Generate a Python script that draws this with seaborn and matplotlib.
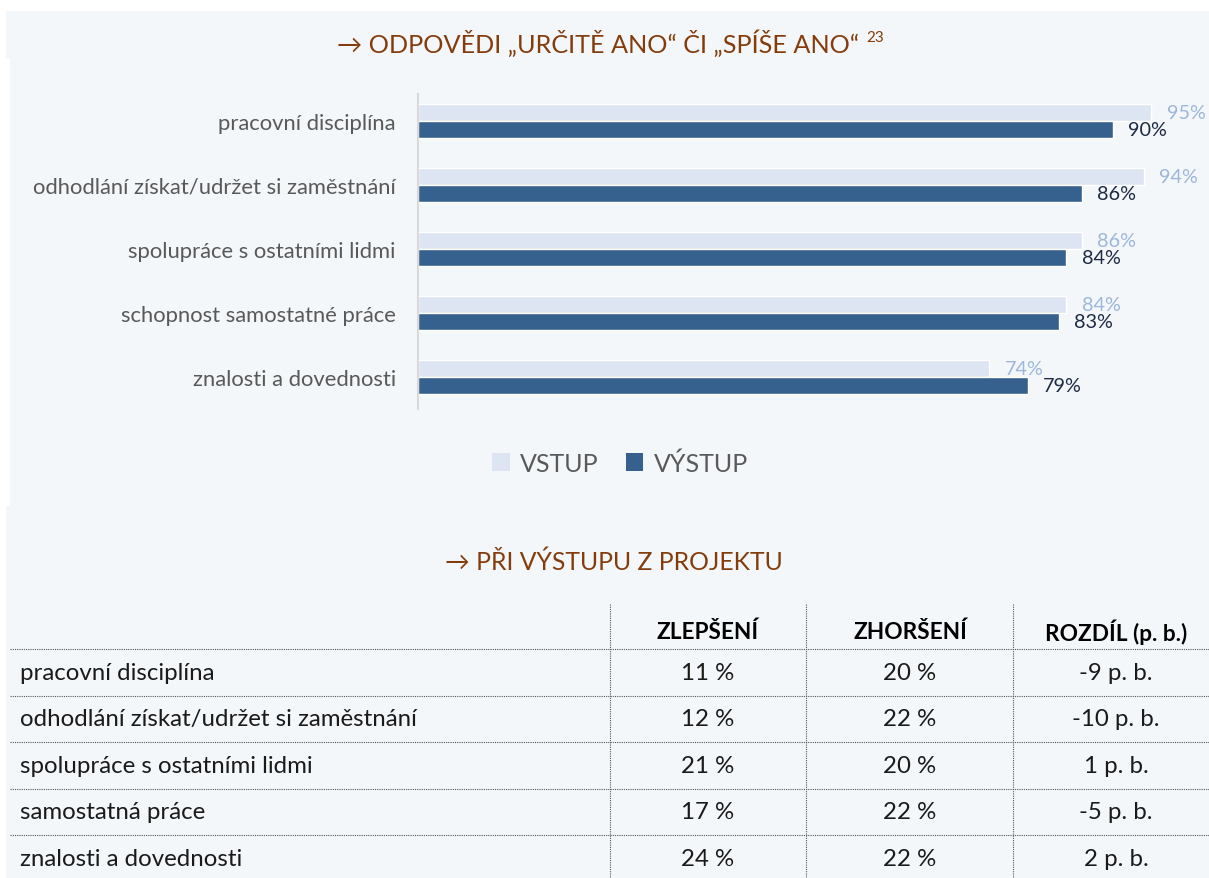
import matplotlib
matplotlib.use("Agg")
import matplotlib.pyplot as plt
from matplotlib.patches import Rectangle, Patch
import pandas as pd
import seaborn as sns

# --- data -------------------------------------------------------------
oblasti = [
    "pracovní disciplína",
    "odhodlání získat/udržet si zaměstnání",
    "spolupráce s ostatními lidmi",
    "schopnost samostatné práce",
    "znalosti a dovednosti",
]
faze = ["VSTUP", "VÝSTUP"]
vstup = [95, 94, 86, 84, 74]
vystup = [90, 86, 84, 83, 79]

tab_oblasti = [
    "pracovní disciplína",
    "odhodlání získat/udržet si zaměstnání",
    "spolupráce s ostatními lidmi",
    "samostatná práce",
    "znalosti a dovednosti",
]
tab_hlavicka = ["ZLEPŠENÍ", "ZHORŠENÍ", "ROZDÍL (p. b.)"]
zlepseni = [11, 12, 21, 17, 24]
zhorseni = [20, 22, 20, 22, 22]
rozdil = [z - h for z, h in zip(zlepseni, zhorseni)]

titul_graf = "→ ODPOVĚDI „URČITĚ ANO“ ČI „SPÍŠE ANO“"
poznamka = "23"
titul_tab = "→ PŘI VÝSTUPU Z PROJEKTU"

# --- style ------------------------------------------------------------
W, H = 1209, 879
BG = "#F4F7FA"
C_IN = "#DCE5F1"
C_OUT = "#36618F"
C_IN_TXT = "#9DB6DB"
C_OUT_TXT = "#1C2A44"
BROWN = "#843C0C"
GRAY = "#595959"
INK = "#1A1A1A"

sns.set_theme(style="white")
plt.rcParams["font.family"] = ["Lato", "DejaVu Sans"]

fig = plt.figure(figsize=(W / 100, H / 100), dpi=100)
fig.patch.set_facecolor("white")

# full-figure canvas in pixel units for panels, titles and the table
bg = fig.add_axes([0, 0, 1, 1], zorder=0)
bg.set_xlim(0, W)
bg.set_ylim(H, 0)
bg.axis("off")
for x0, y0, x1, y1 in [(6, 12, W, 60), (10, 60, W, 507), (6, 507, W, 605), (6, 605, W, H)]:
    bg.add_patch(Rectangle((x0, y0), x1 - x0, y1 - y0, facecolor=BG, edgecolor="none"))

# --- bar chart --------------------------------------------------------
df = pd.DataFrame({
    "oblast": oblasti * 2,
    "faze": [faze[0]] * len(oblasti) + [faze[1]] * len(oblasti),
    "podil": vstup + vystup,
})

ax = fig.add_axes([418 / W, 1 - 410 / H, (1190 - 418) / W, (410 - 95) / H], zorder=1)
ax.patch.set_alpha(0)
sns.barplot(data=df, y="oblast", x="podil", hue="faze", hue_order=faze, order=oblasti,
            orient="h", palette=[C_IN, C_OUT], width=0.54, saturation=1,
            legend=False, ax=ax)
ax.set_xlim(0, 100)
ax.set_ylim(4.5, -0.42)
ax.set_xlabel("")
ax.set_ylabel("")
ax.set_xticks([])
for s in ["top", "right", "bottom"]:
    ax.spines[s].set_visible(False)
ax.spines["left"].set_color("#D9D9D9")
ax.spines["left"].set_linewidth(1.5)
ax.tick_params(axis="y", length=0, pad=16, labelsize=15.8, labelcolor=GRAY)

for cont, vals, col in zip(ax.containers, [vstup, vystup], [C_IN_TXT, C_OUT_TXT]):
    ax.bar_label(cont, labels=[f"{v}%" for v in vals], padding=11, color=col,
                 fontsize=14.3, clip_on=False)

# titles
t1 = bg.text(598, 43, titul_graf, ha="center", va="center", color=BROWN, fontsize=18.2)
bg.annotate(poznamka, xy=(1, 1), xycoords=t1, xytext=(5, -1), textcoords="offset points",
            ha="left", va="top", color=BROWN, fontsize=11)
bg.text(614, 562, titul_tab, ha="center", va="center", color=BROWN, fontsize=17.8)

# legend
handles = [Patch(facecolor=c, edgecolor="none") for c in (C_IN, C_OUT)]
fig.legend(handles, faze, loc="center", bbox_to_anchor=(620 / W, 1 - 464 / H),
           ncol=2, frameon=False, fontsize=18, labelcolor=GRAY,
           handlelength=0.7, handleheight=0.7, handletextpad=0.4, columnspacing=1.1)

# --- table ------------------------------------------------------------
dot = dict(color="#555555", linewidth=0.8, linestyle=(0, (1, 1)))
for xv in (610, 806, 1013):
    bg.plot([xv, xv], [605, H], **dot)
for yh in (650, 697, 743, 790, 836):
    bg.plot([10, W], [yh, yh], **dot)

col_x = [708, 910, 1116]
head_y = 632
row_y = [674, 720, 767, 813, 860]
for cx, hd in zip(col_x, tab_hlavicka):
    bg.text(cx, head_y, hd, ha="center", va="center", fontsize=16.3, fontweight="bold",
            color="black")
for ry, nazev, z, h, r in zip(row_y, tab_oblasti, zlepseni, zhorseni, rozdil):
    bg.text(20, ry, nazev, ha="left", va="center", fontsize=17.3, color=INK)
    bg.text(col_x[0], ry, f"{z} %", ha="center", va="center", fontsize=17.3, color=INK)
    bg.text(col_x[1], ry, f"{h} %", ha="center", va="center", fontsize=17.3, color=INK)
    bg.text(col_x[2], ry, f"{r} p. b.", ha="center", va="center", fontsize=17.3, color=INK)

fig.savefig("out.png", dpi=100, facecolor=fig.get_facecolor())
